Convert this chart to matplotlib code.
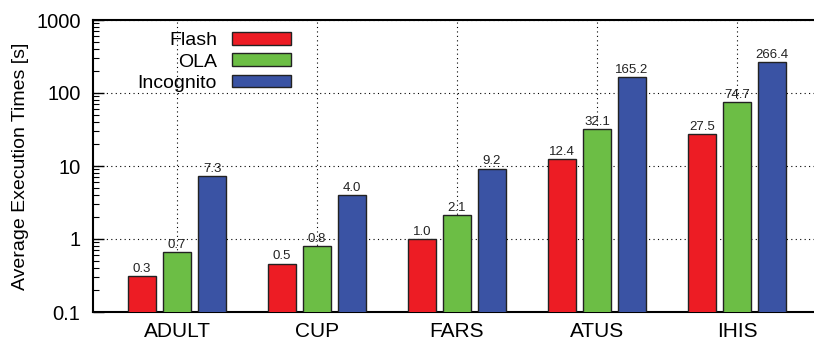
import numpy as np
import matplotlib
matplotlib.use("Agg")
import matplotlib.pyplot as plt
from matplotlib.ticker import LogLocator, NullFormatter, FixedLocator

plt.rcParams['font.family'] = ['Liberation Sans', 'DejaVu Sans']

datasets = ["ADULT", "CUP", "FARS", "ATUS", "IHIS"]
series = ["Flash", "OLA", "Incognito"]
flash = [0.31, 0.46, 1.0, 12.4, 27.5]
ola = [0.66, 0.80, 2.1, 32.1, 74.7]
incognito = [7.3, 4.0, 9.2, 165.2, 266.4]
colors = ["#ED1C24", "#6CBE45", "#3A53A4"]

fig = plt.figure(figsize=(8.14, 3.40), dpi=100)
ax = fig.add_axes([93 / 814, 28 / 340, 721 / 814, 292 / 340])

x = np.arange(len(datasets))
width = 0.2
offsets = [-0.25, 0.0, 0.25]
for vals, name, col, off in zip([flash, ola, incognito], series, colors, offsets):
    bars = ax.bar(x + off, vals, width, color=col, edgecolor="#222222",
                  linewidth=1.0, label=name, zorder=3)
    for b, v in zip(bars, vals):
        ax.annotate(f"{v:.1f}", (b.get_x() + b.get_width() / 2, v),
                    xytext=(0, 1), textcoords="offset points",
                    ha="center", va="bottom", fontsize=9.5, color="#222222",
                    zorder=4)

ax.set_yscale("log")
ax.set_ylim(0.1, 1000)
ax.set_xlim(-0.6, 4.55)
ax.yaxis.set_major_locator(FixedLocator([0.1, 1, 10, 100, 1000]))
ax.set_yticklabels(["0.1", "1", "10", "100", "1000"])
ax.yaxis.set_minor_locator(LogLocator(base=10, subs=np.arange(2, 10)))
ax.yaxis.set_minor_formatter(NullFormatter())
ax.set_xticks(x)
ax.set_xticklabels(datasets)

ax.tick_params(axis="y", which="major", direction="in", length=8, width=1,
               labelsize=14.5, pad=9, right=False)
ax.tick_params(axis="y", which="minor", direction="in", length=4, width=0.8,
               right=False)
ax.tick_params(axis="x", which="major", length=0, labelsize=15, pad=7,
               top=False)

ax.grid(True, which="major", color="black", linestyle=(0, (1, 3)),
        linewidth=0.8, zorder=0)
ax.set_axisbelow(True)

for s in ["left", "bottom", "top"]:
    ax.spines[s].set_linewidth(1.5)
ax.spines["right"].set_visible(False)

ax.set_ylabel("Average Execution Times [s]", fontsize=14, labelpad=5)

leg = ax.legend(loc="upper right", frameon=False,
                markerfirst=False, fontsize=14, handlelength=3.05,
                handleheight=0.62, handletextpad=0.75, labelspacing=0.22,
                borderpad=0, borderaxespad=0)
leg.set_bbox_to_anchor((291 / 814, (340 - 32) / 340), transform=fig.transFigure)
for t in leg.get_texts():
    t.set_ha("right")

fig.savefig("out.png", dpi=100)
